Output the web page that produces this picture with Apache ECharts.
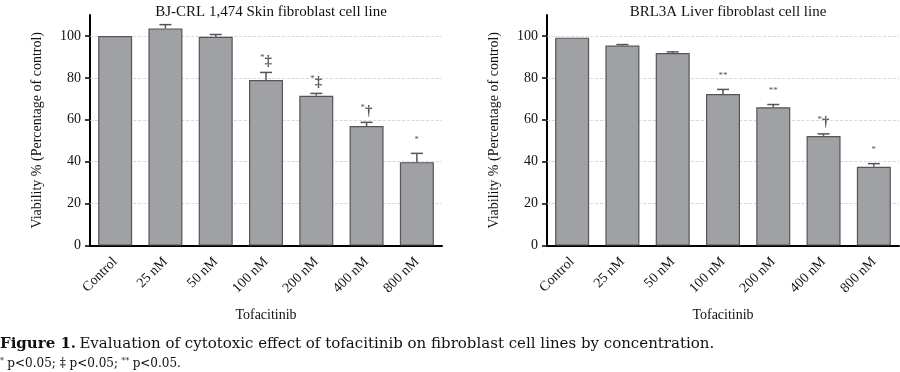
<!DOCTYPE html>
<html><head><meta charset="utf-8">
<script src="https://cdn.jsdelivr.net/npm/echarts@6/dist/echarts.min.js"></script>
<style>html,body{margin:0;padding:0;background:#fff}#c{width:900px;height:372px}</style>
</head><body><div id="c"></div>
<script>
var categories = ['Control', '25 nM', '50 nM', '100 nM', '200 nM', '400 nM', '800 nM'];
var yTicks = [0, 20, 40, 60, 80, 100];
var skinMean = [100, 103.6, 99.6, 79.0, 71.5, 57.0, 39.8];
var skinErr  = [0, 1.8, 1.1, 3.6, 1.1, 1.8, 4.2];
var skinSig  = ['', '', '', '*‡', '*‡', '*†', '*'];
var liverMean = [99.2, 95.4, 91.9, 72.3, 66.0, 52.3, 37.6];
var liverErr  = [0, 0.5, 0.5, 2.2, 1.3, 1.0, 1.5];
var liverSig  = ['', '', '', '**', '**', '*†', '*'];
var titles = ['BJ-CRL 1,474 Skin fibroblast cell line', 'BRL3A Liver fibroblast cell line'];

var SERIF = '"Liberation Serif", serif';
var CAP = '"DejaVu Serif", serif';
var chart = echarts.init(document.getElementById('c'));
var grids = [{left: 90, top: 15, width: 352, height: 230.6}, {left: 547, top: 15, width: 352, height: 230.6}];

function errSeries(idx, mean, err, sig) {
  return {
    type: 'custom', xAxisIndex: idx, yAxisIndex: idx, z: 5,
    data: mean.map(function (m, i) { return [i, m, m + err[i]]; }),
    renderItem: function (params, api) {
      var b = api.coord([api.value(0), api.value(1)]);
      var t = api.coord([api.value(0), api.value(2)]);
      var s = sig[params.dataIndex];
      var children = [];
      if (t[1] < b[1] - 0.5) {
        children.push({type: 'line', shape: {x1: b[0], y1: b[1], x2: t[0], y2: t[1]}, style: {stroke: '#555', lineWidth: 1.5}});
        children.push({type: 'line', shape: {x1: t[0] - 6, y1: t[1], x2: t[0] + 6, y2: t[1]}, style: {stroke: '#555', lineWidth: 1.5}});
      }
      if (s) {
        var rich = s.replace(/\*/g, '{a|*}').replace(/([‡†])/g, '{b|$1}');
        children.push({type: 'text', x: t[0], y: t[1] - 4, style: {
          text: rich, align: 'center', verticalAlign: 'bottom',
          rich: {a: {fontSize: 9, fill: '#555', verticalAlign: 'top', fontFamily: SERIF, padding: [0,0,5,0]},
                 b: {fontSize: 15, fill: '#555', fontFamily: SERIF, fontWeight: 'bold'}}
        }});
      }
      return {type: 'group', children: children};
    }
  };
}

function barSeries(idx, mean) {
  return {
    type: 'bar', xAxisIndex: idx, yAxisIndex: idx, data: mean, barWidth: 34, z: 3,
    itemStyle: {color: '#a0a1a5', borderColor: '#555', borderWidth: 1.2},
    markLine: {silent: true, symbol: 'none', z: 1, label: {show: false},
      lineStyle: {color: '#cfcfcf', type: 'dashed', width: 0.8},
      data: yTicks.slice(1).map(function (v) { return {yAxis: v}; })}
  };
}

var xAxes = [], yAxes = [];
[0, 1].forEach(function (i) {
  xAxes.push({type: 'category', gridIndex: i, data: categories,
    axisLine: {lineStyle: {color: '#000', width: 2}},
    axisTick: {alignWithLabel: true, length: 6, lineStyle: {color: '#000', width: 1.5}},
    axisLabel: {rotate: 45, fontFamily: SERIF, fontSize: 14, color: '#111', margin: 14},
    name: 'Tofacitinib', nameLocation: 'middle', nameGap: 63,
    nameTextStyle: {fontFamily: SERIF, fontSize: 14, color: '#111'}});
  yAxes.push({type: 'value', gridIndex: i, min: 0, max: 110, interval: 20,
    axisLine: {show: true, lineStyle: {color: '#000', width: 2}},
    axisTick: {show: true, length: 5, lineStyle: {color: '#000', width: 1.5}},
    axisLabel: {fontFamily: SERIF, fontSize: 14, color: '#111', margin: 9, showMaxLabel: false,
      formatter: function (v) { return yTicks.indexOf(v) >= 0 ? String(v) : ''; }},
    splitLine: {show: false},
    name: 'Viability % (Percentage of control)', nameLocation: 'middle', nameGap: 46,
    nameTextStyle: {fontFamily: SERIF, fontSize: 14, color: '#111'}});
});

chart.setOption({
  animation: false,
  title: [
    {text: titles[0], left: 266, top: 0, textAlign: 'center', textStyle: {fontFamily: SERIF, fontSize: 15, fontWeight: 'normal', color: '#111'}},
    {text: titles[1], left: 723, top: 0, textAlign: 'center', textStyle: {fontFamily: SERIF, fontSize: 15, fontWeight: 'normal', color: '#111'}}
  ],
  grid: grids,
  xAxis: xAxes,
  yAxis: yAxes,
  series: [barSeries(0, skinMean), errSeries(0, skinMean, skinErr, skinSig),
           barSeries(1, liverMean), errSeries(1, liverMean, liverErr, liverSig)],
  graphic: [
    {type: 'text', left: 0, top: 337, style: {
      text: '{b|Figure 1.} {n|Evaluation of cytotoxic effect of tofacitinib on fibroblast cell lines by concentration.}',
      rich: {b: {fontFamily: CAP, fontWeight: 'bold', fontSize: 15, fill: '#111'},
             n: {fontFamily: CAP, fontSize: 15, fill: '#111'}}}},
    {type: 'text', left: 0, top: 357, style: {
      text: '{s|*} {n|p<0.05; ‡ p<0.05;} {s|**} {n|p<0.05.}',
      rich: {s: {fontFamily: CAP, fontSize: 8, fill: '#111', verticalAlign: 'top', padding: [0,0,5,0]},
             n: {fontFamily: CAP, fontSize: 12, fill: '#111'}}}}
  ]
});
</script></body></html>
